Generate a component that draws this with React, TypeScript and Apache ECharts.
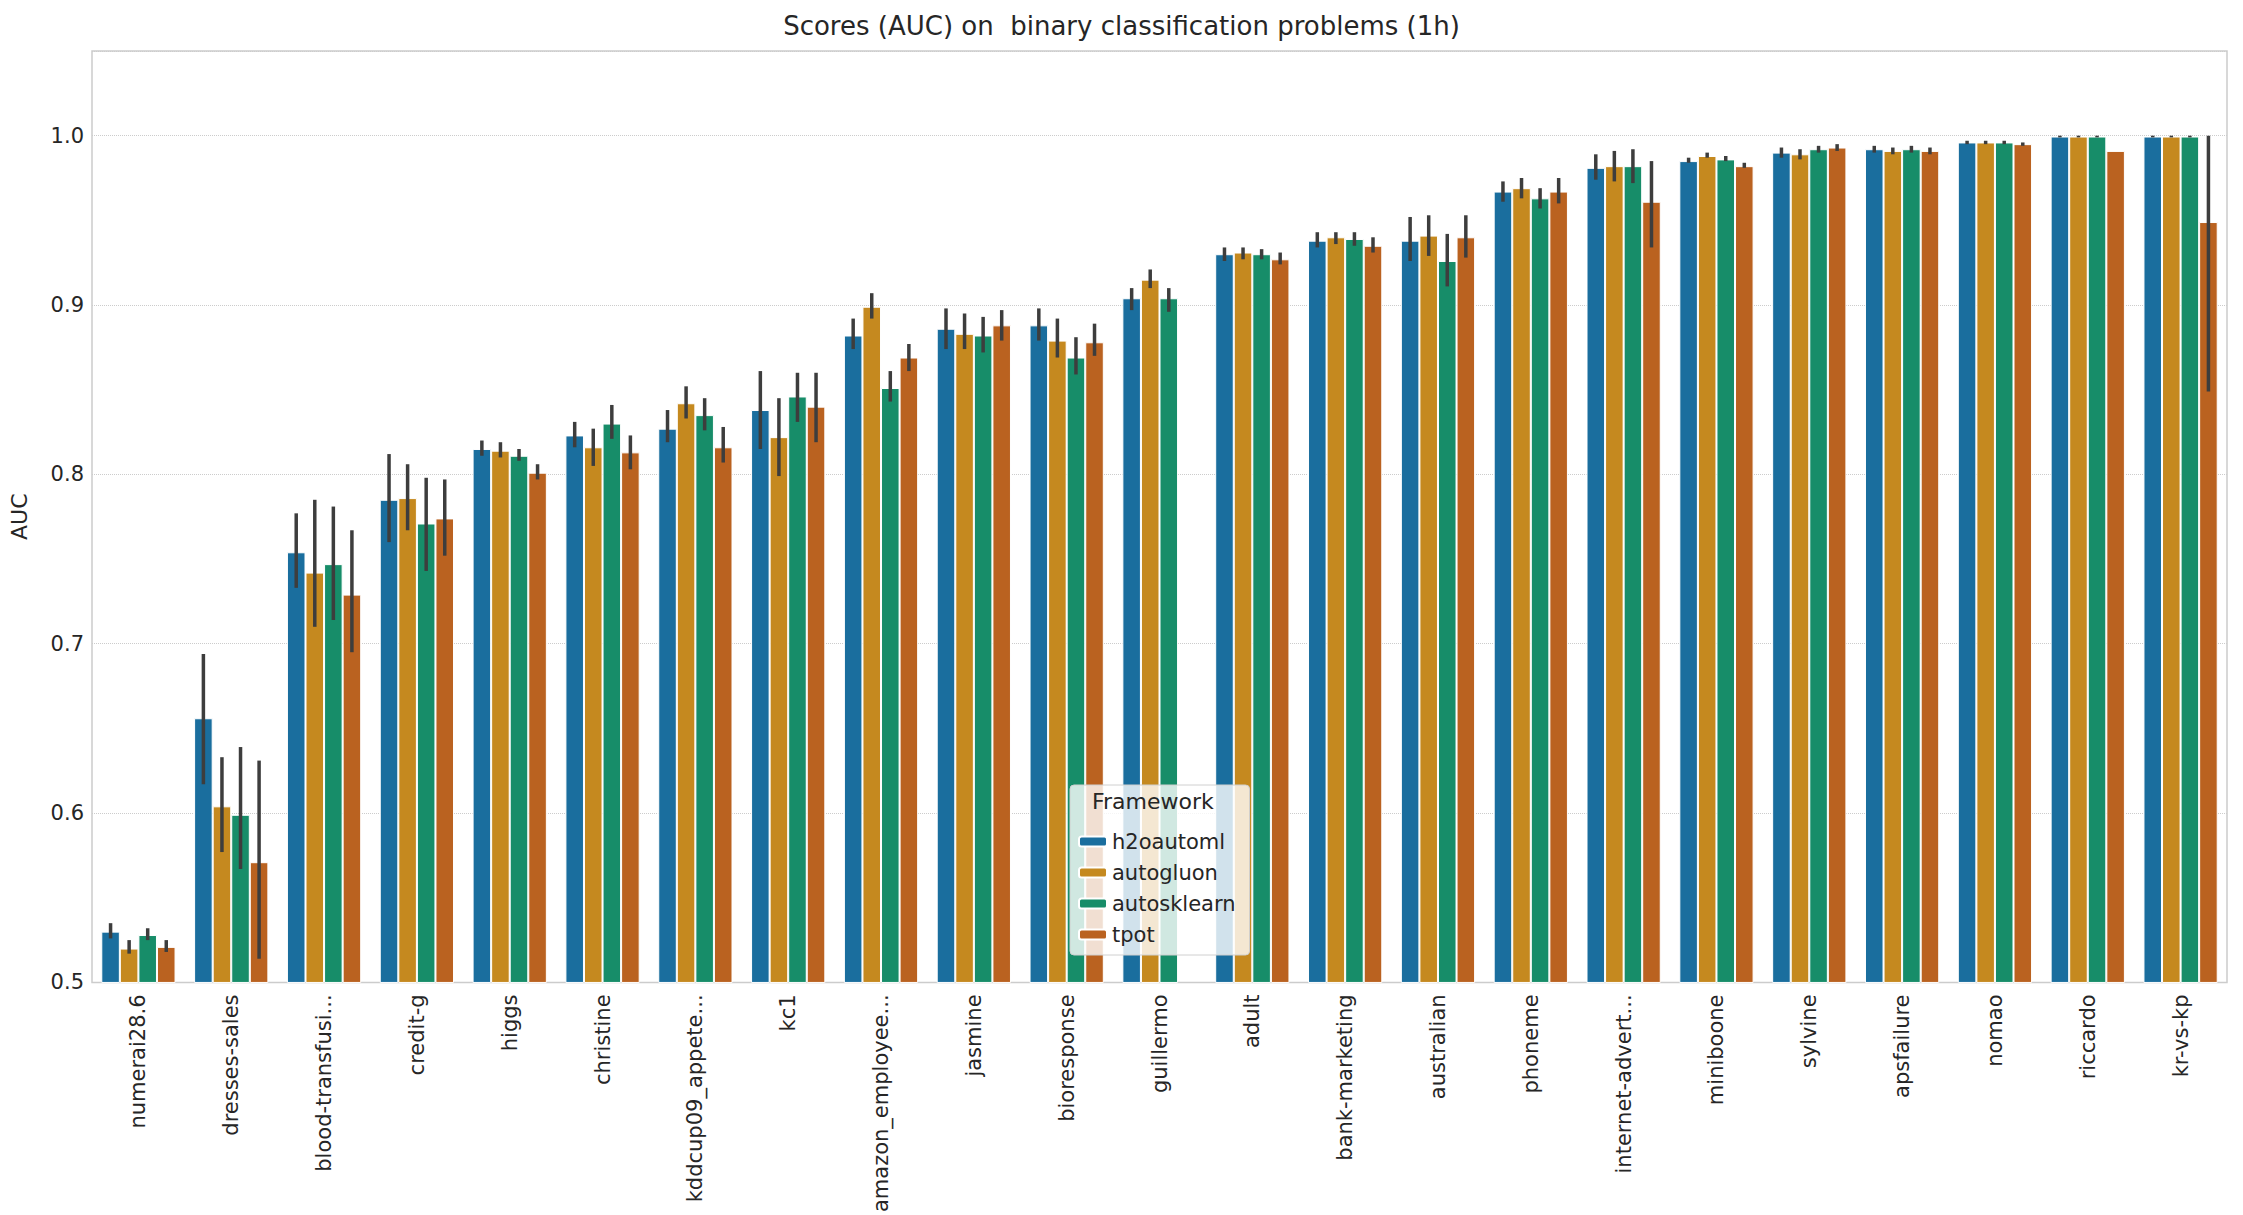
import React, { useEffect, useRef } from "react";
import * as echarts from "echarts";

const categories = [
  "numerai28.6", "dresses-sales", "blood-transfusi...", "credit-g", "higgs", "christine",
  "kddcup09_appete...", "kc1", "amazon_employee...", "jasmine", "bioresponse", "guillermo",
  "adult", "bank-marketing", "australian", "phoneme", "internet-advert...", "miniboone",
  "sylvine", "apsfailure", "nomao", "riccardo", "kr-vs-kp",
];

const frameworks = ["h2oautoml", "autogluon", "autosklearn", "tpot"];
const colors = ["#1a6e9e", "#c5891f", "#178d69", "#ba6220"];

const h2oautoml = [0.530, 0.656, 0.754, 0.785, 0.815, 0.823, 0.827, 0.838, 0.882, 0.886, 0.888, 0.904, 0.930, 0.938, 0.938, 0.967, 0.981, 0.985, 0.990, 0.992, 0.996, 0.9995, 0.9995];
const autogluon = [0.520, 0.604, 0.742, 0.786, 0.814, 0.816, 0.842, 0.822, 0.899, 0.883, 0.879, 0.915, 0.931, 0.940, 0.941, 0.969, 0.982, 0.988, 0.989, 0.991, 0.996, 0.9995, 0.9995];
const autosklearn = [0.528, 0.599, 0.747, 0.771, 0.811, 0.830, 0.835, 0.846, 0.851, 0.882, 0.869, 0.904, 0.930, 0.939, 0.926, 0.963, 0.982, 0.986, 0.992, 0.992, 0.996, 0.9995, 0.9995];
const tpot = [0.521, 0.571, 0.729, 0.774, 0.801, 0.813, 0.816, 0.840, 0.869, 0.888, 0.878, null, 0.927, 0.935, 0.940, 0.967, 0.961, 0.982, 0.993, 0.991, 0.995, 0.991, 0.949];

// error bar [low, high] per category
const h2oErr = [[0.526, 0.535], [0.617, 0.694], [0.733, 0.777], [0.760, 0.812], [0.811, 0.820], [0.816, 0.831], [0.819, 0.838], [0.815, 0.861], [0.874, 0.892], [0.874, 0.898], [0.879, 0.898], [0.897, 0.910], [0.926, 0.934], [0.934, 0.943], [0.926, 0.952], [0.961, 0.973], [0.974, 0.989], [0.984, 0.987], [0.987, 0.993], [0.990, 0.994], [0.995, 0.997], [0.999, 1.0], [0.999, 1.0]];
const gluonErr = [[0.517, 0.525], [0.577, 0.633], [0.710, 0.785], [0.767, 0.806], [0.810, 0.819], [0.805, 0.827], [0.833, 0.852], [0.799, 0.845], [0.892, 0.907], [0.874, 0.895], [0.869, 0.892], [0.910, 0.921], [0.927, 0.934], [0.936, 0.943], [0.929, 0.953], [0.963, 0.975], [0.973, 0.991], [0.987, 0.990], [0.986, 0.992], [0.989, 0.993], [0.995, 0.997], [0.999, 1.0], [0.999, 1.0]];
const sklearnErr = [[0.525, 0.532], [0.567, 0.639], [0.714, 0.781], [0.743, 0.798], [0.808, 0.815], [0.821, 0.841], [0.826, 0.845], [0.831, 0.860], [0.843, 0.861], [0.872, 0.893], [0.859, 0.881], [0.896, 0.910], [0.927, 0.933], [0.935, 0.943], [0.911, 0.942], [0.957, 0.969], [0.972, 0.992], [0.985, 0.988], [0.990, 0.994], [0.990, 0.994], [0.995, 0.997], [0.999, 1.0], [0.999, 1.0]];
const tpotErr = [[0.518, 0.525], [0.514, 0.631], [0.695, 0.767], [0.752, 0.797], [0.797, 0.806], [0.803, 0.823], [0.807, 0.828], [0.819, 0.860], [0.861, 0.877], [0.879, 0.897], [0.870, 0.889], null, [0.924, 0.931], [0.931, 0.940], [0.928, 0.953], [0.960, 0.975], [0.934, 0.985], [0.981, 0.984], [0.991, 0.995], [0.989, 0.993], [0.994, 0.996], null, [0.849, 1.0]];

const values = [h2oautoml, autogluon, autosklearn, tpot];
const errors = [h2oErr, gluonErr, sklearnErr, tpotErr];

const App: React.FC = () => {
  const chartRef = useRef<HTMLDivElement>(null);

  useEffect(() => {
    if (!chartRef.current) return;
    const chart = echarts.init(chartRef.current, undefined, { renderer: "svg" });
    const font = "DejaVu Sans";

    const barSeries = frameworks.map((name, i) => ({
      name,
      type: "bar",
      data: values[i],
      barGap: "0%",
      barCategoryGap: "20%",
      itemStyle: { color: colors[i], borderColor: "#ffffff", borderWidth: 1 },
    }));

    const errSeries = frameworks.map((name, i) => ({
      name: name + "-err",
      type: "custom",
      z: 5,
      data: errors[i]
        .map((e, k) => (e ? [k, e[0], e[1]] : null))
        .filter((d) => d !== null),
      renderItem: (params: any, api: any) => {
        const band = api.size([1, 0])[0];
        const off = (-0.3 + 0.2 * i) * band;
        const lo = api.coord([api.value(0), api.value(1)]);
        const hi = api.coord([api.value(0), api.value(2)]);
        return {
          type: "line",
          shape: { x1: lo[0] + off, y1: lo[1], x2: hi[0] + off, y2: hi[1] },
          style: { stroke: "#3d3d3d", lineWidth: 3.5 },
        };
      },
    }));

    chart.setOption({
      animation: false,
      backgroundColor: "#ffffff",
      textStyle: { fontFamily: font },
      title: {
        text: "Scores (AUC) on  binary classification problems (1h)",
        left: "center",
        top: 8,
        textStyle: { fontFamily: font, fontSize: 26, fontWeight: "normal", color: "#262626" },
      },
      legend: {
        data: frameworks,
        orient: "vertical",
        left: 1070,
        top: 785,
        itemWidth: 28,
        itemHeight: 10,
        itemGap: 10,
        padding: [46, 14, 10, 8],
        backgroundColor: "rgba(255,255,255,0.8)",
        borderColor: "#d0d0d0",
        borderWidth: 1,
        borderRadius: 4,
        textStyle: { fontFamily: font, fontSize: 21, color: "#262626" },
      },
      graphic: [
        {
          type: "text",
          left: 1092,
          top: 790,
          z: 100,
          style: { text: "Framework", fontFamily: font, fontSize: 22, fill: "#262626" },
        },
      ],
      grid: { left: 91, top: 51, right: 16, bottom: 107, containLabel: false, show: true, borderColor: "#cccccc", borderWidth: 1.5 },
      xAxis: {
        type: "category",
        data: categories,
        axisLine: { show: false },
        axisTick: { show: false },
        axisLabel: { rotate: 90, fontSize: 21, color: "#262626", margin: 12, fontFamily: font },
      },
      yAxis: {
        type: "value",
        min: 0.5,
        max: 1.05,
        interval: 0.1,
        name: "AUC",
        nameLocation: "middle",
        nameGap: 62,
        nameTextStyle: { fontSize: 22, color: "#262626", fontFamily: font },
        axisLine: { show: false },
        axisTick: { show: false },
        axisLabel: {
          fontSize: 21,
          color: "#262626",
          fontFamily: font,
          showMaxLabel: false,
          formatter: (v: number) => v.toFixed(1),
        },
        splitLine: { lineStyle: { color: "#cccccc", type: "dotted", width: 1 } },
      },
      series: [...barSeries, ...errSeries],
    } as any);

    return () => {
      chart.dispose();
    };
  }, []);

  return (
    <div
      ref={chartRef}
      style={{ position: "fixed", left: 0, top: 0, width: 2243, height: 1215 }}
    />
  );
};

export default App;
